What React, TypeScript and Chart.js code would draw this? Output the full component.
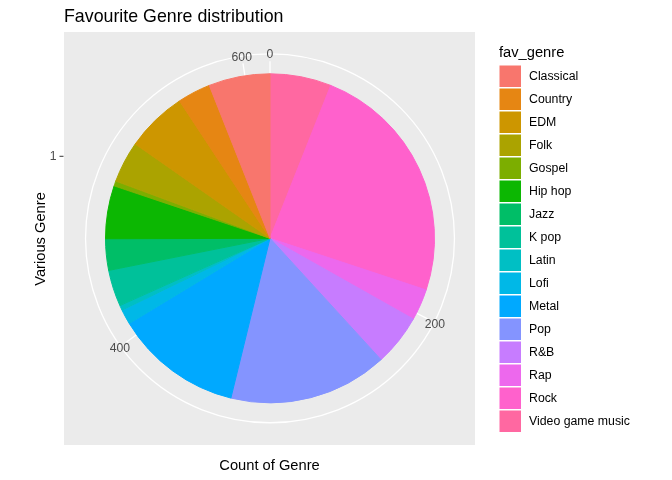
import React, { useEffect, useRef } from "react";
import { Chart, registerables } from "chart.js";

Chart.register(...registerables);

// Data in legend order (as in the ggplot legend)
const genres = [
  "Classical", "Country", "EDM", "Folk", "Gospel", "Hip hop", "Jazz", "K pop",
  "Latin", "Lofi", "Metal", "Pop", "R&B", "Rap", "Rock", "Video game music",
];
const counts = [37, 20, 37, 25, 3, 32, 19, 22, 3, 9, 77, 96, 31, 19, 148, 37];
const genreColors = [
  "#F8766D", "#E68613", "#CD9600", "#ABA300", "#7CAE00", "#0CB702", "#00BE67", "#00C19A",
  "#00BFC4", "#00B8E7", "#00A9FF", "#8494FF", "#C77CFF", "#ED68ED", "#FF61CC", "#FF68A1",
];
const thetaTicks = [0, 200, 400, 600];
const rTickLabels = ["1"];

const titleText = "Favourite Genre distribution";
const xTitle = "Count of Genre";
const yTitle = "Various Genre";
const legendTitle = "fav_genre";

const FONT = "'Liberation Sans', Arial, Helvetica, sans-serif";

export default function App() {
  const ref = useRef<HTMLCanvasElement | null>(null);

  useEffect(() => {
    if (!ref.current) return;
    // ggplot stacks the first level last: pie goes clockwise from VGM to Classical
    const pieLabels = [...genres].reverse();
    const pieCounts = [...counts].reverse();
    const pieColors = [...genreColors].reverse();
    const total = counts.reduce((a, b) => a + b, 0);

    const decor = {
      id: "ggDecor",
      beforeDraw(chart: any) {
        const ctx = chart.ctx as CanvasRenderingContext2D;
        const arc = chart.getDatasetMeta(0).data[0] as any;
        const cx = arc.x, cy = arc.y;
        const pieR = arc.outerRadius + 0.5;
        ctx.save();
        ctx.fillStyle = "#FFFFFF";
        ctx.fillRect(0, 0, chart.width, chart.height);
        ctx.fillStyle = "#EBEBEB";
        ctx.fillRect(64, 32, 411, 413);
        ctx.strokeStyle = "#FFFFFF";
        ctx.lineWidth = 1.3;
        ctx.beginPath();
        ctx.arc(cx, cy, pieR * 1.118, 0, Math.PI * 2);
        ctx.stroke();
        ctx.beginPath();
        for (const t of thetaTicks) {
          const a = (t / total) * Math.PI * 2;
          ctx.moveTo(cx, cy);
          ctx.lineTo(cx + Math.sin(a) * pieR * 1.073, cy - Math.cos(a) * pieR * 1.073);
        }
        ctx.stroke();
        ctx.restore();
      },
      afterDraw(chart: any) {
        const ctx = chart.ctx as CanvasRenderingContext2D;
        const arc = chart.getDatasetMeta(0).data[0] as any;
        const cx = arc.x, cy = arc.y;
        const pieR = arc.outerRadius + 0.5;
        ctx.save();
        // theta tick labels
        ctx.font = `12.2px ${FONT}`;
        ctx.fillStyle = "#4D4D4D";
        ctx.textAlign = "center";
        ctx.textBaseline = "middle";
        for (const t of thetaTicks) {
          const a = (t / total) * Math.PI * 2;
          const r = pieR * 1.122;
          ctx.fillText(String(t), cx + Math.sin(a) * r, cy - Math.cos(a) * r + 1.8);
        }
        // r axis label "1" and its tick
        ctx.textAlign = "right";
        const ry = cy - pieR * 0.497;
        ctx.fillText(rTickLabels[0], 56.5, ry + 0.5);
        ctx.strokeStyle = "#333333";
        ctx.lineWidth = 1;
        ctx.beginPath();
        ctx.moveTo(59.5, ry);
        ctx.lineTo(63.5, ry);
        ctx.stroke();

        // title
        ctx.fillStyle = "#000000";
        ctx.textAlign = "left";
        ctx.textBaseline = "alphabetic";
        ctx.font = `17.8px ${FONT}`;
        ctx.fillText(titleText, 64, 22);

        // axis titles
        ctx.font = `14.7px ${FONT}`;
        ctx.textAlign = "center";
        ctx.fillText(xTitle, 269.5, 470);
        ctx.save();
        ctx.translate(44.5, 239);
        ctx.rotate(-Math.PI / 2);
        ctx.fillText(yTitle, 0, 0);
        ctx.restore();

        // legend
        ctx.textAlign = "left";
        ctx.fillText(legendTitle, 499, 57.3);
        ctx.font = `12.3px ${FONT}`;
        ctx.textBaseline = "middle";
        for (let i = 0; i < genres.length; i++) {
          const y = 65.5 + i * 23;
          ctx.fillStyle = genreColors[i];
          ctx.fillRect(499.5, y, 21.5, 21.5);
          ctx.fillStyle = "#000000";
          ctx.fillText(genres[i], 529, y + 11);
        }
        ctx.restore();
      },
    };

    const chart = new Chart(ref.current, {
      type: "pie",
      data: {
        labels: pieLabels,
        datasets: [
          {
            data: pieCounts,
            backgroundColor: pieColors,
            borderColor: pieColors,
            borderWidth: 1,
          },
        ],
      },
      options: {
        responsive: false,
        animation: false,
        layout: { padding: { left: 105, right: 237, top: 73.3, bottom: 76.7 } },
        plugins: {
          legend: { display: false },
          tooltip: { enabled: false },
          title: { display: false },
        },
        events: [],
      },
      plugins: [decor],
    });
    return () => chart.destroy();
  }, []);

  return (
    <div style={{ position: "fixed", left: 0, top: 0, width: 672, height: 480, background: "#fff" }}>
      <canvas ref={ref} width={672} height={480} style={{ display: "block" }} />
    </div>
  );
}
